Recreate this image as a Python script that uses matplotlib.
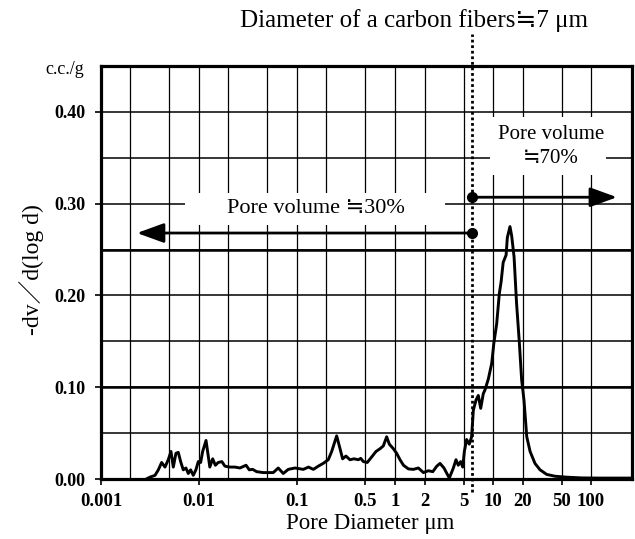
import matplotlib
matplotlib.use("Agg")
import matplotlib.pyplot as plt
from matplotlib.patches import Rectangle
from matplotlib.ticker import FixedLocator, NullFormatter

plt.rcParams['font.family'] = ['Liberation Serif', 'DejaVu Sans', 'Noto Sans CJK JP']

# pore size distribution (um, c.c./g)
pore_diam = [0.0029, 0.00316, 0.00356, 0.00385, 0.00416, 0.0045, 0.00486, 0.00518, 0.00547, 0.00582,
             0.00615, 0.0065, 0.00691, 0.00736, 0.00778, 0.00822, 0.00875, 0.0093, 0.00984, 0.0104,
             0.0109, 0.0118, 0.0124, 0.0129, 0.0138, 0.0147, 0.0157, 0.0171, 0.0184, 0.0207,
             0.0233, 0.0262, 0.0302, 0.0326, 0.0353, 0.0388, 0.0453, 0.0573, 0.0644, 0.0724,
             0.0815, 0.0955,
             0.116, 0.131, 0.147, 0.165, 0.185, 0.2085, 0.226, 0.254, 0.275, 0.292,
             0.316, 0.347, 0.382, 0.423, 0.447, 0.475, 0.521, 0.578, 0.64, 0.703,
             0.76, 0.822, 0.875, 0.962, 1.04, 1.125, 1.22, 1.37, 1.54, 1.73,
             1.95, 2.19, 2.43, 2.67, 2.88, 3.16, 3.58, 3.94, 4.19, 4.42, 4.68, 4.91,
             5.1, 5.38, 5.73, 6.05, 6.3, 6.71, 7.08, 7.49, 7.96, 8.28,
             8.96, 9.7, 10.2, 10.9, 11.6, 12.1, 12.7, 13.6, 14.0, 14.9,
             15.5, 16.4, 17.4, 18.5, 19.6, 20.7, 22.1, 23.9, 26.8, 30.2,
             35.3, 43, 56.5, 80, 120, 180, 250]
dv_dlogd = [0, 0.002, 0.004, 0.010, 0.018, 0.013, 0.021, 0.030, 0.013, 0.028,
            0.029, 0.019, 0.010, 0.012, 0.006, 0.010, 0.004, 0.010, 0.019, 0.018,
            0.030, 0.042, 0.026, 0.013, 0.022, 0.015, 0.018, 0.019, 0.014, 0.013,
            0.013, 0.012, 0.015, 0.010, 0.0105, 0.008, 0.007, 0.007, 0.012, 0.006,
            0.0105, 0.012,
            0.0105, 0.013, 0.0105, 0.014, 0.017, 0.021, 0.030, 0.047, 0.033, 0.022,
            0.025, 0.021, 0.022, 0.021, 0.0225, 0.019, 0.018, 0.024, 0.030, 0.033,
            0.036, 0.046, 0.038, 0.033, 0.028, 0.021, 0.015, 0.011, 0.0105, 0.012,
            0.007, 0.009, 0.008, 0.014, 0.017, 0.012, 0.001, 0.012, 0.021, 0.015, 0.019, 0.013,
            0.030, 0.043, 0.038, 0.046, 0.075, 0.086, 0.091, 0.077, 0.093, 0.097,
            0.109, 0.126, 0.148, 0.169, 0.202, 0.215, 0.236, 0.244, 0.263, 0.275,
            0.265, 0.242, 0.191, 0.151, 0.108, 0.086, 0.046, 0.030, 0.017, 0.010,
            0.005, 0.003, 0.002, 0.0012, 0.001, 0.001, 0.001]

x_major = [0.001, 0.01, 0.1, 0.5, 1, 2, 5, 10, 20, 50, 100]
x_major_labels = ['0.001', '0.01', '0.1', '0.5', '1', '2', '5', '10', '20', '50', '100']
x_minor = [0.002, 0.005, 0.02, 0.05, 0.2]
y_major = [0.0, 0.1, 0.2, 0.3, 0.4]
y_major_labels = ['0.00', '0.10', '0.20', '0.30', '0.40']
y_minor = [0.05, 0.15, 0.25, 0.35]

fiber_diam = 6.05          # dotted marker line
left_arrow = (0.00233, 0.268)
right_arrow = (184, 0.307)

fig = plt.figure(figsize=(6.35, 5.39), dpi=100)
ax = fig.add_axes([0.159, 0.1113, 0.8363, 0.7663])

ax.set_xscale('log')
ax.set_xlim(0.001, 262)
ax.set_ylim(0, 0.45)

ax.xaxis.set_major_locator(FixedLocator(x_major))
ax.set_xticklabels(x_major_labels)
ax.xaxis.set_minor_locator(FixedLocator(x_minor))
ax.xaxis.set_minor_formatter(NullFormatter())
ax.set_yticks(y_major)
ax.set_yticklabels(y_major_labels)
ax.yaxis.set_minor_locator(FixedLocator(y_minor))

ax.set_axisbelow(True)
ax.grid(True, which='both', axis='x', color='black', lw=0.9)
ax.grid(True, which='both', axis='y', color='black', lw=1.1)
for yv in (0.10, 0.25):
    ax.axhline(yv, color='black', lw=1.8, zorder=0.6)

ax.tick_params(which='major', direction='out', length=4, width=1.2, pad=6)
ax.tick_params(axis='x', labelsize=13.5, pad=6)
ax.tick_params(axis='y', labelsize=13, pad=7)
ax.tick_params(which='minor', length=0)
for lab in ax.get_xticklabels() + ax.get_yticklabels():
    lab.set_fontweight('bold')
for sp in ax.spines.values():
    sp.set_linewidth(2.3)

# white boxes behind the annotations
ax.add_patch(Rectangle((0.158, 0.615), 0.49, 0.0775, transform=ax.transAxes,
                       fc='white', ec='none', zorder=1))
ax.add_patch(Rectangle((0.7326, 0.736), 0.2184, 0.1405, transform=ax.transAxes,
                       fc='white', ec='none', zorder=1))

ax.plot(pore_diam, dv_dlogd, color='black', lw=2.1, zorder=3)

# fiber diameter dotted line
ax.plot([fiber_diam, fiber_diam], [-0.014, 0.485], color='black', lw=2.0,
        ls=(0, (1, 1)), clip_on=False, zorder=4)

# pore volume arrows
arrow_style = dict(arrowstyle='-|>,head_length=1.1,head_width=0.4', lw=2.0,
                   color='black', mutation_scale=15, shrinkA=0, shrinkB=0)
ax.annotate('', xy=left_arrow, xytext=(fiber_diam, left_arrow[1]),
            arrowprops=arrow_style, zorder=4)
ax.annotate('', xy=right_arrow, xytext=(fiber_diam, right_arrow[1]),
            arrowprops=arrow_style, zorder=4)
ax.plot([fiber_diam, fiber_diam], [left_arrow[1], right_arrow[1]], 'o',
        color='black', ms=7, zorder=5)

ax.text(0.404, 0.654, 'Pore volume ≒30%', transform=ax.transAxes,
        ha='center', va='center', fontsize=16, zorder=4)
ax.text(0.8475, 0.805, 'Pore volume\n≒70%', transform=ax.transAxes,
        ha='center', va='center', fontsize=15, linespacing=1.35, zorder=4)

fig.text(414 / 635, 1 - 21 / 539, 'Diameter of a carbon fibers≒7 μm',
         ha='center', va='center', fontsize=18)
fig.text(84 / 635, 1 - 70 / 539, 'c.c./g', ha='right', va='center', fontsize=13)
fig.text(32 / 635, 1 - 270 / 539, '-dv／d(log d)', ha='center', va='center',
         rotation=90, fontsize=17)
fig.text(370 / 635, 1 - 523 / 539, 'Pore Diameter μm', ha='center', va='center',
         fontsize=16.5)

fig.savefig('out.png', dpi=100)
